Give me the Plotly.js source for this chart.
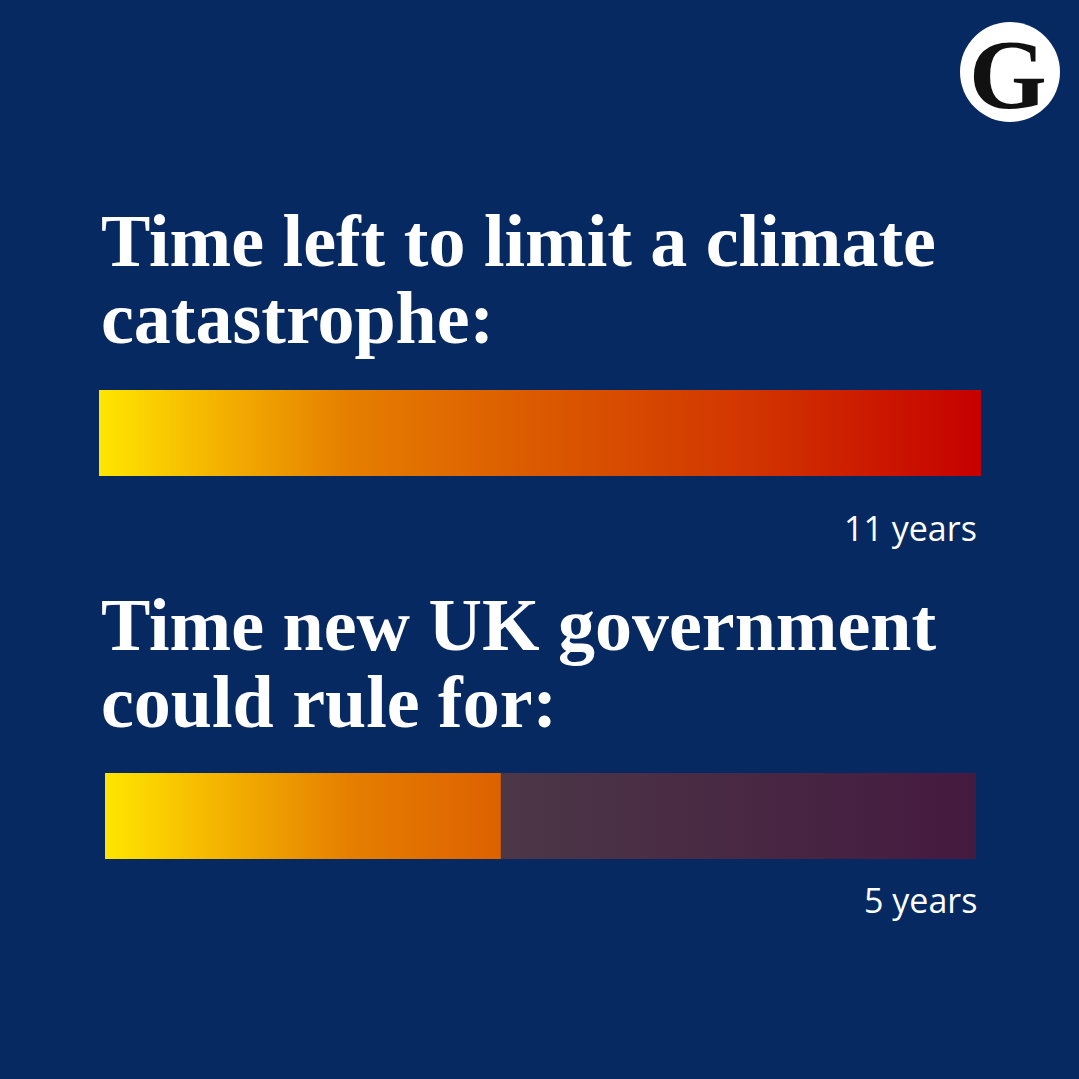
<!DOCTYPE html>
<html><head><meta charset="utf-8">
<script src="https://cdn.plot.ly/plotly-3.0.1.min.js"></script>
<style>html,body{margin:0;padding:0;background:#072962;}#chart{width:1079px;height:1079px;}</style>
</head><body><div id="chart"></div>
<script>
// ---- data ----
const questions = ["Time left to limit a climate<br>catastrophe:", "Time new UK government<br>could rule for:"];
const years = [11, 5];
const horizon = 11;
const valueLabels = ["11 years", "5 years"];

// ---- layout helpers (pixel -> paper) ----
const W = 1079, H = 1079;
const px = v => v / W;
const py = v => 1 - v / H;

const bg = '#072962';
const heat = [[0,'#FFE600'],[0.12,'#F5B800'],[0.28,'#E67F00'],[0.5,'#DB5900'],[0.75,'#D13300'],[1,'#C60000']];
const dim = [[0,'#4C3747'],[1,'#451A40']];

const barBoxes = [
  {x0: 99, x1: 981, top: 390, bottom: 476},
  {x0: 105, x1: 976, top: 773, bottom: 859}
];
const titleBaselines = [[266, 343], [650, 727]];
const labelBaselines = [541, 913];

const traces = [];
const layout = {
  width: W, height: H,
  margin: {l: 0, r: 0, t: 0, b: 0},
  paper_bgcolor: bg, plot_bgcolor: bg,
  showlegend: false,
  annotations: [],
  shapes: []
};

years.forEach((v, i) => {
  const s = i === 0 ? '' : String(i + 1);
  const xa = 'x' + s, ya = 'y' + s;
  traces.push({
    type: 'scatter', mode: 'lines', xaxis: xa, yaxis: ya,
    x: [0, v, v, 0, 0], y: [0, 0, 1, 1, 0],
    fill: 'toself', line: {width: 0},
    fillgradient: {type: 'horizontal', colorscale: heat, start: 0, stop: horizon},
    hoverinfo: 'skip'
  });
  if (v < horizon) {
    traces.push({
      type: 'scatter', mode: 'lines', xaxis: xa, yaxis: ya,
      x: [v, horizon, horizon, v, v], y: [0, 0, 1, 1, 0],
      fill: 'toself', line: {width: 0},
      fillgradient: {type: 'horizontal', colorscale: dim},
      hoverinfo: 'skip'
    });
  }
  const b = barBoxes[i];
  layout['xaxis' + s] = {domain: [px(b.x0), px(b.x1)], range: [0, horizon], visible: false, fixedrange: true, anchor: ya};
  layout['yaxis' + s] = {domain: [py(b.bottom), py(b.top)], range: [0, 1], visible: false, fixedrange: true, anchor: xa};

  questions[i].split('<br>').forEach((line, j) => {
    layout.annotations.push({
      text: line, xref: 'paper', yref: 'paper', x: px(99), xanchor: 'left',
      y: py(titleBaselines[i][j] - 25), yanchor: 'middle', showarrow: false,
      font: {family: 'Liberation Serif', size: 74, color: '#ffffff', weight: 'bold'}
    });
  });
  layout.annotations.push({
    text: valueLabels[i], xref: 'paper', yref: 'paper', x: px(979), xanchor: 'right',
    y: py(labelBaselines[i] - 13), yanchor: 'middle', showarrow: false,
    font: {family: 'Open Sans', size: 34, color: '#ffffff'}
  });
});

// Guardian roundel
layout.shapes.push({type: 'circle', xref: 'paper', yref: 'paper',
  x0: px(960), x1: px(1060), y0: py(122), y1: py(22), fillcolor: '#ffffff', line: {width: 0}});
layout.annotations.push({text: 'G', xref: 'paper', yref: 'paper', x: px(1008), y: py(74),
  xanchor: 'center', yanchor: 'middle', showarrow: false,
  font: {family: 'Liberation Serif', size: 100, color: '#111111', weight: 'bold'}});

Plotly.newPlot('chart', traces, layout, {displayModeBar: false, staticPlot: true});
</script>
</body></html>
